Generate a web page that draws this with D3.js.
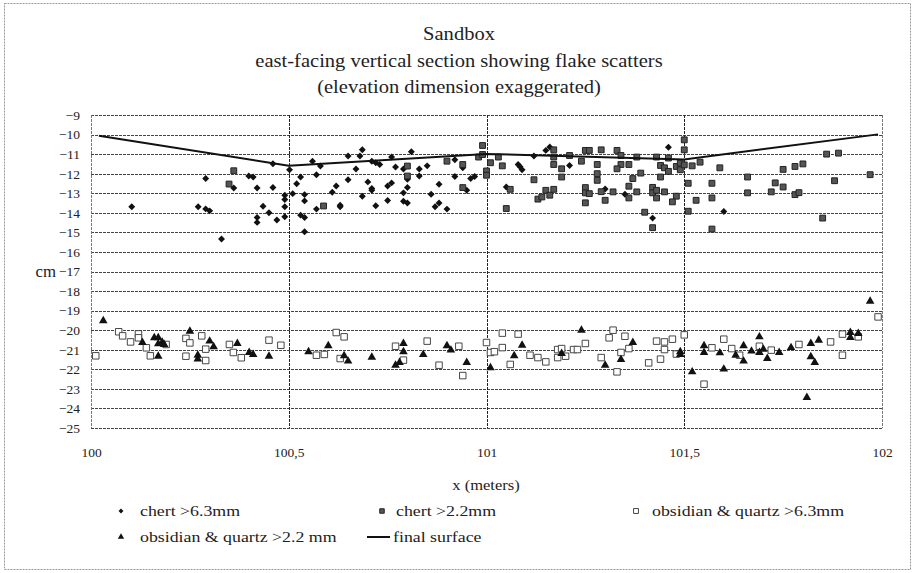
<!DOCTYPE html>
<html><head><meta charset="utf-8">
<script src="https://cdn.jsdelivr.net/npm/d3@7"></script>
<style>body{margin:0;background:#fff}svg{display:block}text{font-family:"Liberation Serif","Times New Roman",serif;fill:#222}</style>
</head><body><svg id="c" width="914" height="573"></svg>
<script>
const titleLines = ["Sandbox","east-facing vertical section showing flake scatters","(elevation dimension exaggerated)"];
const xTicks = [100,100.5,101,101.5,102];
const xTickLabels = ["100","100,5","101","101,5","102"];
const yTicks = d3.range(-25,-8,1);
const seriesNames = ["chert >6.3mm","chert >2.2mm","obsidian & quartz >6.3mm","obsidian & quartz >2.2 mm","final surface"];

const surface = [[100.02,-10.06],[100.5,-11.59],[101,-10.99],[101.5,-11.27],[101.99,-9.99]];

const chert63 = [[100.103,-13.69],[100.271,-13.69],[100.29,-13.8],[100.30,-13.9],[100.29,-12.25],[100.33,-15.34],[100.361,-12.73],[100.399,-12.12],[100.41,-12.17],[100.42,-12.73],[100.435,-13.66],[100.42,-14.24],[100.42,-14.49],[100.45,-14.0],[100.46,-12.71],[100.46,-11.49],[100.47,-14.37],[100.49,-13.1],[100.49,-13.32],[100.49,-13.69],[100.49,-14.2],[100.502,-11.8],[100.51,-13.02],[100.52,-12.51],[100.53,-12.17],[100.54,-13.07],[100.54,-13.39],[100.53,-14.12],[100.54,-14.24],[100.54,-14.97],[100.56,-11.36],[100.57,-12.05],[100.58,-11.61],[100.57,-13.81],[100.61,-12.95],[100.62,-12.63],[100.63,-13.61],[100.63,-13.69],[100.65,-12.31],[100.65,-11.1],[100.67,-11.76],[100.68,-11.1],[100.686,-10.78],[100.686,-13.15],
[100.71,-11.36],[100.72,-11.44],[100.73,-11.53],[100.76,-11.15],[100.77,-11.66],[100.79,-11.76],[100.81,-10.88],[100.80,-12.29],[100.83,-11.76],[100.83,-12.12],[100.85,-11.6],[100.70,-12.42],[100.71,-12.76],[100.71,-12.85],[100.72,-13.64],[100.75,-12.63],[100.76,-12.47],[100.75,-13.37],[100.79,-12.98],[100.79,-13.41],[100.80,-13.5],[100.80,-12.71],[100.86,-13.05],[100.88,-12.54],[100.87,-13.69],[100.88,-13.5],[100.90,-13.81],[100.92,-11.29],[100.92,-12.14],[100.94,-11.7],[100.95,-12.85],[100.96,-12.25],[100.97,-12.14],[101.05,-12.68],[101.08,-11.53],[101.09,-11.8],[101.085,-11.65],[101.12,-11.1],[101.15,-10.81],[101.16,-10.64],[101.21,-11.58],[101.30,-12.78],[101.35,-13.05],[101.46,-10.65],[101.42,-14.27],[101.60,-13.93]];

const chert22 = [[100.361,-11.85],[100.349,-12.53],[100.588,-13.65],[100.80,-11.61],[100.80,-12.12],[100.90,-11.36],[100.94,-11.53],[100.94,-12.71],[100.98,-11.15],[100.99,-10.56],[100.99,-11.02],[101.0,-11.86],[101.0,-12.08],[101.01,-11.44],[101.03,-11.15],[101.04,-11.6],[101.05,-13.78],[101.06,-12.8],[101.12,-12.31],[101.17,-10.78],[101.17,-11.15],[101.17,-11.53],[101.19,-11.75],[101.19,-12.17],[101.21,-11.07],[101.13,-13.3],[101.14,-13.19],[101.15,-12.85],[101.16,-13.1],[101.17,-12.8],[101.24,-11.36],[101.25,-10.81],[101.26,-10.81],[101.28,-11.53],[101.28,-12.0],[101.28,-12.34],[101.29,-10.78],[101.25,-12.71],[101.25,-12.98],[101.25,-13.49],[101.26,-13.02],[101.29,-12.92],[101.30,-13.36],[101.32,-12.93],[101.33,-10.81],[101.34,-11.07],[101.34,-11.53],[101.36,-11.53],[101.33,-11.75],[101.36,-13.24],[101.36,-12.64],[101.37,-12.25],[101.38,-11.15],[101.39,-11.97],[101.38,-12.93],
[101.43,-11.15],[101.44,-11.58],[101.45,-11.7],[101.44,-12.17],[101.46,-11.2],[101.46,-11.88],[101.48,-11.63],[101.49,-11.46],[101.49,-11.8],[101.5,-10.27],[101.5,-10.78],[101.5,-11.55],[101.52,-11.6],[101.54,-11.41],[101.51,-12.49],[101.42,-12.7],[101.42,-12.98],[101.43,-12.85],[101.45,-12.93],[101.43,-13.24],[101.48,-13.15],[101.47,-13.44],[101.53,-13.36],[101.40,-13.97],[101.42,-14.76],[101.51,-13.92],[101.57,-12.49],[101.57,-13.24],[101.57,-14.83],[101.59,-11.7],[101.66,-12.17],[101.66,-12.98],[101.72,-12.93],[101.73,-12.47],[101.75,-12.68],[101.75,-11.78],[101.78,-11.63],[101.80,-11.5],[101.78,-13.07],[101.79,-12.97],[101.85,-14.27],[101.86,-11.0],[101.89,-10.95],[101.88,-12.36],[101.97,-12.05]];

const obsq63 = [[100.012,-21.31],[100.07,-20.08],[100.08,-20.29],[100.10,-20.6],[100.12,-20.19],[100.12,-20.39],[100.14,-20.9],[100.15,-21.31],[100.19,-20.73],[100.24,-20.42],[100.25,-20.65],[100.24,-21.33],[100.28,-20.29],[100.29,-20.97],[100.29,-21.55],[100.35,-20.73],[100.36,-21.14],[100.38,-21.41],[100.45,-20.51],[100.48,-20.77],[100.57,-21.28],[100.59,-21.24],[100.62,-20.12],[100.64,-20.34],[100.63,-21.45],
[100.77,-20.82],[100.79,-21.53],[100.85,-20.56],[100.88,-21.79],[100.93,-20.82],[100.94,-22.32],[101.0,-20.63],[101.01,-21.14],[101.02,-21.1],[101.04,-20.15],[101.04,-20.89],[101.08,-20.2],[101.06,-21.75],[101.11,-21.28],[101.13,-21.4],[101.15,-21.62],[101.18,-20.99],[101.19,-20.94],[101.18,-21.4],[101.20,-21.33],[101.22,-20.99],[101.23,-20.99],[101.25,-20.68],[101.29,-21.4],[101.31,-20.39],[101.32,-20.0],[101.33,-22.13],[101.34,-21.14],[101.35,-20.31],[101.36,-20.94],
[101.43,-20.56],[101.45,-20.6],[101.47,-20.46],[101.45,-20.99],[101.41,-21.67],[101.44,-21.48],[101.48,-21.22],[101.50,-20.24],[101.55,-22.76],[101.57,-20.9],[101.60,-20.46],[101.62,-20.94],[101.64,-21.28],[101.69,-20.82],[101.72,-21.02],[101.79,-20.73],[101.87,-20.6],[101.90,-20.2],[101.90,-21.28],[101.94,-20.34],[101.99,-19.32]];

const obsq22 = [[100.031,-19.52],[100.13,-20.63],[100.16,-20.39],[100.17,-20.39],[100.17,-20.7],[100.18,-20.62],[100.185,-20.73],[100.17,-21.33],[100.25,-20.05],[100.27,-21.28],[100.27,-21.48],[100.30,-20.56],[100.31,-20.85],[100.37,-20.68],[100.40,-21.14],[100.41,-21.24],[100.45,-21.33],[100.55,-21.1],[100.60,-20.8],[100.64,-21.31],[100.65,-21.58],
[100.71,-21.38],[100.77,-21.79],[100.78,-21.65],[100.79,-20.68],[100.79,-21.1],[100.84,-21.24],[100.90,-20.8],[100.91,-21.02],[100.95,-21.65],[101.01,-21.92],[101.07,-21.31],[101.09,-20.77],[101.19,-21.19],[101.24,-20.0],[101.30,-21.79],[101.34,-21.5],[101.37,-20.63],
[101.49,-21.1],[101.49,-21.24],[101.52,-22.13],[101.55,-20.8],[101.55,-21.14],[101.59,-21.16],[101.60,-21.99],[101.63,-21.28],[101.65,-20.8],[101.65,-21.58],[101.67,-21.07],[101.69,-21.14],[101.70,-20.97],[101.69,-20.34],[101.71,-21.45],[101.74,-21.14],[101.77,-20.89],[101.81,-23.44],[101.82,-20.68],[101.82,-21.36],[101.83,-21.65],[101.84,-20.51],[101.92,-20.12],[101.92,-20.37],[101.94,-20.17],[101.97,-18.52]];

const svg = d3.select("#c");
svg.append("rect").attr("x",4.5).attr("y",3.5).attr("width",906).attr("height",566).attr("fill","none").attr("stroke","#999").attr("stroke-dasharray","2,1");

const L=91,R=882,T=115,B=428;
const x = d3.scaleLinear().domain([100,102]).range([L,R]);
const y = d3.scaleLinear().domain([-25,-9]).range([B,T]);

// stretched text helper (reference type is slightly wide)
function stext(sel, tx, ty, str, size, sx, anchor){
  return sel.append("text").attr("transform",`translate(${tx},${ty}) scale(${sx},1)`)
    .attr("text-anchor",anchor||"start").attr("font-size",size).text(str);
}

// title
titleLines.forEach((t,i)=>stext(svg,459,40+i*26.5,t,18,1.14,"middle"));

// grid
const g = svg.append("g");
g.selectAll("line.h").data(yTicks).join("line").attr("x1",L).attr("x2",R).attr("y1",d=>Math.round(y(d))+0.5).attr("y2",d=>Math.round(y(d))+0.5)
 .attr("stroke","#444").attr("stroke-width",1).attr("stroke-dasharray","3,1");
g.selectAll("line.v").data(xTicks).join("line").attr("y1",T).attr("y2",B).attr("x1",d=>Math.round(x(d))+0.5).attr("x2",d=>Math.round(x(d))+0.5)
 .attr("stroke",(d,i)=> (i==0||i==xTicks.length-1)?"#777":"#222").attr("stroke-width",1).attr("stroke-dasharray","3,1");

// axes labels
const yAxis = d3.axisLeft(y).tickValues(yTicks).tickSize(0).tickPadding(11);
const ya = svg.append("g").attr("transform",`translate(${L},0)`).call(yAxis);
ya.select(".domain").remove();
ya.selectAll("text").attr("font-size",13.5).attr("font-family","Liberation Serif").attr("fill","#222");
const xAxis = d3.axisBottom(x).tickValues(xTicks).tickFormat((d,i)=>xTickLabels[i]).tickSize(0).tickPadding(19);
const xa = svg.append("g").attr("transform",`translate(0,${B})`).call(xAxis);
xa.select(".domain").remove();
xa.selectAll("text").attr("font-size",13.5).attr("font-family","Liberation Serif").attr("fill","#222");
stext(svg,56,y(-17)+5,"cm",16,1.05,"end");
stext(svg,486,490,"x (meters)",15,1.1,"middle");

// series
const line = d3.line().x(d=>x(d[0])).y(d=>y(d[1]));
const pg = svg.append("g");
pg.selectAll("path.c63").data(chert63).join("path").attr("transform",d=>`translate(${x(d[0])},${y(d[1])}) rotate(45)`)
  .attr("d",d3.symbol().type(d3.symbolSquare).size(24)).attr("fill","#111");
pg.selectAll("path.c22").data(chert22).join("path").attr("transform",d=>`translate(${x(d[0])},${y(d[1])})`)
  .attr("d",d3.symbol().type(d3.symbolSquare).size(34)).attr("fill","#555").attr("stroke","#222").attr("stroke-width",1);
pg.selectAll("path.o63").data(obsq63).join("path").attr("transform",d=>`translate(${x(d[0])},${y(d[1])})`)
  .attr("d",d3.symbol().type(d3.symbolSquare).size(42)).attr("fill","#fff").attr("stroke","#333").attr("stroke-width",0.9);
pg.selectAll("path.o22").data(obsq22).join("path").attr("transform",d=>`translate(${x(d[0])},${y(d[1])})`)
  .attr("d",d3.symbol().type(d3.symbolTriangle).size(32)).attr("fill","#111");
svg.append("path").datum(surface).attr("d",line).attr("fill","none").attr("stroke","#111").attr("stroke-width",2);

// legend
const lg = svg.append("g");
const items = [
 {n:seriesNames[0],x:121,y:511,tx:140,t:"d"},
 {n:seriesNames[1],x:382,y:511,tx:396,t:"s"},
 {n:seriesNames[2],x:636,y:511,tx:652,t:"o"},
 {n:seriesNames[3],x:121,y:537,tx:140,t:"t"},
 {n:seriesNames[4],x:378,y:537,tx:393,t:"l"}
];
items.forEach(it=>{
  const tr=`translate(${it.x},${it.y})`;
  if(it.t=="d") lg.append("path").attr("transform",tr+" rotate(45)").attr("d",d3.symbol().type(d3.symbolSquare).size(12)).attr("fill","#111");
  if(it.t=="s") lg.append("path").attr("transform",tr).attr("d",d3.symbol().type(d3.symbolSquare).size(20)).attr("fill","#555").attr("stroke","#222");
  if(it.t=="o") lg.append("path").attr("transform",tr).attr("d",d3.symbol().type(d3.symbolSquare).size(24)).attr("fill","#fff").attr("stroke","#333").attr("stroke-width",0.9);
  if(it.t=="t") lg.append("path").attr("transform",tr).attr("d",d3.symbol().type(d3.symbolTriangle).size(18)).attr("fill","#111");
  if(it.t=="l") lg.append("line").attr("x1",it.x-11).attr("x2",it.x+12).attr("y1",it.y).attr("y2",it.y).attr("stroke","#111").attr("stroke-width",2);
  stext(lg,it.tx,it.y+5,it.n,15.5,1.15,"start");
});
</script></body></html>
